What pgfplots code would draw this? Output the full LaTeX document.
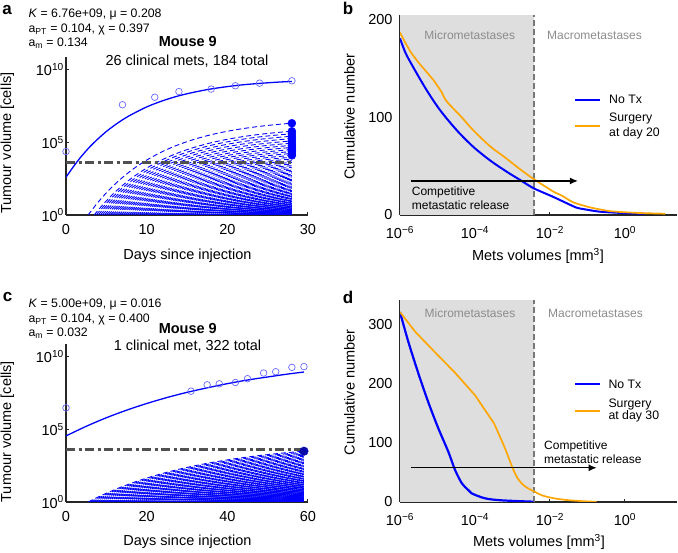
\documentclass[border=0pt]{standalone}
\usepackage{fontspec}
\setmainfont{Liberation Sans}
\usepackage{pgfplots}
\usepackage{pgfplotstable}
\pgfplotsset{compat=1.18}
\usetikzlibrary{arrows.meta}

\definecolor{tx}{RGB}{0,0,255}
\definecolor{surg}{RGB}{255,166,0}
\definecolor{thr}{RGB}{80,80,80}
\definecolor{circ}{RGB}{105,105,255}
\definecolor{shade}{RGB}{222,222,222}
\definecolor{zone}{RGB}{140,140,140}
\definecolor{vline}{RGB}{120,120,120}
\definecolor{dotc}{RGB}{10,10,170}

\newcommand\fmain{\fontsize{14.5}{17}\selectfont}
\newcommand\fsmall{\fontsize{12}{14}\selectfont}
\newcommand\fleg{\fontsize{12.3}{14}\selectfont}
\newcommand\fpar{\fontsize{12.3}{14}\selectfont}
\newcommand\fpanel{\fontsize{17}{19}\selectfont\bfseries}

% Log10 growth-decay term h(t) shared by all metastases of a mouse:
% a metastasis seeded at t_k has log10 V(t) = h(t_k) - h(t).
\pgfplotstableread{
t h
2.50 6.8787
2.75 6.6839
3.00 6.4944
3.25 6.3103
3.50 6.1315
3.75 5.9578
4.00 5.7889
4.25 5.6248
4.50 5.4654
4.75 5.3106
5.00 5.1600
5.25 5.0138
5.50 4.8717
5.75 4.7336
6.00 4.5995
6.25 4.4692
6.50 4.3425
6.75 4.2194
7.00 4.0998
7.25 3.9836
7.50 3.8707
7.75 3.7610
8.00 3.6544
8.25 3.5508
8.50 3.4502
8.75 3.3524
9.00 3.2574
9.25 3.1651
9.50 3.0754
9.75 2.9882
10.00 2.9036
10.25 2.8213
10.50 2.7413
10.75 2.6637
11.00 2.5881
11.25 2.5148
11.50 2.4435
11.75 2.3742
12.00 2.3070
12.25 2.2416
12.50 2.1781
12.75 2.1164
13.00 2.0564
13.25 1.9981
13.50 1.9415
13.75 1.8865
14.00 1.8330
14.25 1.7811
14.50 1.7306
14.75 1.6815
15.00 1.6339
15.25 1.5876
15.50 1.5426
15.75 1.4989
16.00 1.4564
16.25 1.4151
16.50 1.3750
16.75 1.3360
17.00 1.2981
17.25 1.2613
17.50 1.2256
17.75 1.1908
18.00 1.1571
18.25 1.1243
18.50 1.0924
18.75 1.0615
19.00 1.0314
19.25 1.0022
19.50 0.9738
19.75 0.9462
20.00 0.9194
20.25 0.8933
20.50 0.8680
20.75 0.8434
21.00 0.8195
21.25 0.7963
21.50 0.7737
21.75 0.7518
22.00 0.7305
22.25 0.7098
22.50 0.6897
22.75 0.6701
23.00 0.6511
23.25 0.6326
23.50 0.6147
23.75 0.5973
24.00 0.5804
24.25 0.5640
24.50 0.5480
24.75 0.5324
25.00 0.5173
25.25 0.5026
25.50 0.4884
25.75 0.4746
26.00 0.4611
26.25 0.4480
26.50 0.4353
26.75 0.4230
27.00 0.4110
27.25 0.3994
27.50 0.3880
27.75 0.3770
28.00 0.3664
}\metA

\pgfplotstableread{
t h
5.0 4.2057
5.5 4.1327
6.0 4.0611
6.5 3.9906
7.0 3.9214
7.5 3.8534
8.0 3.7865
8.5 3.7208
9.0 3.6563
9.5 3.5929
10.0 3.5305
10.5 3.4693
11.0 3.4091
11.5 3.3500
12.0 3.2918
12.5 3.2347
13.0 3.1786
13.5 3.1235
14.0 3.0693
14.5 3.0161
15.0 2.9637
15.5 2.9123
16.0 2.8618
16.5 2.8122
17.0 2.7633
17.5 2.7154
18.0 2.6683
18.5 2.6220
19.0 2.5765
19.5 2.5318
20.0 2.4879
20.5 2.4447
21.0 2.4023
21.5 2.3606
22.0 2.3197
22.5 2.2795
23.0 2.2399
23.5 2.2010
24.0 2.1629
24.5 2.1254
25.0 2.0885
25.5 2.0523
26.0 2.0166
26.5 1.9816
27.0 1.9473
27.5 1.9135
28.0 1.8803
28.5 1.8477
29.0 1.8156
29.5 1.7841
30.0 1.7532
30.5 1.7228
31.0 1.6929
31.5 1.6635
32.0 1.6347
32.5 1.6063
33.0 1.5784
33.5 1.5510
34.0 1.5241
34.5 1.4977
35.0 1.4717
35.5 1.4462
36.0 1.4211
36.5 1.3964
37.0 1.3722
37.5 1.3484
38.0 1.3250
38.5 1.3020
39.0 1.2794
39.5 1.2572
40.0 1.2354
40.5 1.2140
41.0 1.1929
41.5 1.1722
42.0 1.1519
42.5 1.1319
43.0 1.1123
43.5 1.0930
44.0 1.0740
44.5 1.0554
45.0 1.0371
45.5 1.0191
46.0 1.0014
46.5 0.9840
47.0 0.9670
47.5 0.9502
48.0 0.9337
48.5 0.9175
49.0 0.9016
49.5 0.8860
50.0 0.8706
50.5 0.8555
51.0 0.8406
51.5 0.8260
52.0 0.8117
52.5 0.7976
53.0 0.7838
53.5 0.7702
54.0 0.7569
54.5 0.7438
55.0 0.7308
55.5 0.7181
56.0 0.7057
56.5 0.6935
57.0 0.6814
57.5 0.6696
58.0 0.6580
58.5 0.6466
59.0 0.6353
}\metC

% primary tumour fits (days, cells)
\pgfplotstableread{
t v
0 398
1 2455
2 1.26e4
3 5.25e4
4 1.82e5
5 5.62e5
6 1.48e6
7 3.55e6
8 7.59e6
10 2.75e7
12 7.41e7
14 1.62e8
16 2.95e8
18 4.79e8
20 6.92e8
22 9.33e8
24 1.15e9
26 1.38e9
28 1.58e9
}\primA

\pgfplotstableread{
t v
0 3.55e4
5 1.62e5
10 6.31e5
15 2.09e6
20 6.03e6
25 1.55e7
30 3.55e7
35 7.24e7
40 1.41e8
45 2.51e8
50 4.07e8
55 6.46e8
59 8.91e8
}\primC

\pgfplotsset{
  panel/.style={scale only axis, anchor=south west,
    axis x line*=bottom, axis y line*=left,
    axis line style={line width=1.8pt, black!85},
    tick style={black!85, line width=1pt}, major tick length=3pt, tick align=inside,
    tick label style={font=\fmain},
    xminorticks=false, yminorticks=false, clip mode=individual},
  metline/.style={tx, line width=0.9pt, dash pattern=on 5pt off 3pt},
}

% one metastasis seeded at row #2 of table #1
\newcommand{\metcurve}[2]{%
  \pgfplotstablegetelem{#2}{t}\of{#1}\let\tk=\pgfplotsretval
  \pgfplotstablegetelem{#2}{h}\of{#1}\let\hk=\pgfplotsretval
  \pgfmathsetmacro{\tlo}{\tk-0.05}%
  \edef\doplot{\noexpand\addplot[metline, restrict x to domain=\tlo:100]
    table[x=t, y expr={10^(\hk-\noexpand\thisrow{h})}] {\noexpand#1};}%
  \doplot
}

\begin{document}
\begin{tikzpicture}
\useasboundingbox (0pt,0pt) rectangle (678pt,553pt);

% ---------------- a ----------------
\begin{axis}[panel, at={(66pt,338pt)}, width=242pt, height=157.5pt,
  xmin=0, xmax=30, ymode=log, ymin=1, ymax=7e10,
  xtick={0,10,20,30}, xticklabels={0,10,20,30},
  ytick={1,1e5,1e10},
  yticklabels={10\textsuperscript{0},10\textsuperscript{5},10\textsuperscript{10}},
  xticklabel style={yshift=-6pt}, yticklabel style={inner sep=2pt}]
  \metcurve{\metA}{1}
  \pgfplotsforeachungrouped \r in {4,...,101}{\metcurve{\metA}{\r}}
  \addplot[thr, line width=2.6pt, dash pattern=on 9pt off 3.5pt on 3pt off 3.5pt]
    coordinates {(0,3.98e3) (28,3.98e3)};
  \addplot[tx, line width=1.3pt, smooth] table[x=t, y=v] {\primA};
  \addplot[only marks, mark=o, mark size=3.3pt, mark options={circ, line width=0.7pt}]
    coordinates {(0,2.34e4) (7,3.9e7) (11,1.29e8) (14,3.16e8) (18,4.68e8) (21,7.9e8) (24,1.2e9) (28,1.74e9)};
  \addplot[only marks, mark=*, mark size=4pt, tx]
    coordinates {(28,2.08e6) (28,5.82e5) (28,3.90e5) (28,2.65e5) (28,1.81e5) (28,1.26e5) (28,8.80e4)
      (28,6.22e4) (28,4.44e4) (28,3.20e4) (28,2.33e4) (28,1.71e4) (28,1.27e4)};
\end{axis}

% ---------------- c ----------------
\begin{axis}[panel, at={(66pt,51pt)}, width=242pt, height=157.5pt,
  xmin=0, xmax=60, ymode=log, ymin=1, ymax=7e10,
  xtick={0,20,40,60}, xticklabels={0,20,40,60},
  ytick={1,1e5,1e10},
  yticklabels={10\textsuperscript{0},10\textsuperscript{5},10\textsuperscript{10}},
  xticklabel style={yshift=-6pt}, yticklabel style={inner sep=2pt}]
  \pgfplotsforeachungrouped \r in {1,...,107}{\metcurve{\metC}{\r}}
  \addplot[thr, line width=2.6pt, dash pattern=on 9pt off 3.5pt on 3pt off 3.5pt]
    coordinates {(0,3.98e3) (59,3.98e3)};
  \addplot[tx, line width=1.3pt, smooth] table[x=t, y=v] {\primC};
  \addplot[only marks, mark=o, mark size=3.3pt, mark options={circ, line width=0.7pt}]
    coordinates {(0,3.02e6) (31,4.27e7) (35,1.17e8) (38,1.38e8) (42,1.70e8) (45,3.09e8) (49,7.59e8) (52,9.33e8) (56,1.86e9) (59,2.09e9)};
  \addplot[only marks, mark=*, mark size=4.3pt, dotc] coordinates {(59,3.14e3)};
\end{axis}

% ---------------- b ----------------
\begin{axis}[panel, at={(400pt,338pt)}, width=277pt, height=200pt,
  xmode=log, xmin=1e-6, xmax=24.4, ymin=0, ymax=205,
  xtick={1e-6,1e-4,1e-2,1},
  xticklabels={10\textsuperscript{−6},10\textsuperscript{−4},10\textsuperscript{−2},10\textsuperscript{0}},
  ytick={0,100,200}, yticklabels={0,100,200},
  xticklabel style={yshift=-8pt}, yticklabel style={xshift=-4pt}]
  \addplot[fill=shade, draw=none] coordinates {(1e-6,205) (3.7e-3,205)} \closedcycle;
  \addplot[vline, line width=1.7pt, dash pattern=on 6pt off 3pt] coordinates {(3.7e-3,0) (3.7e-3,205)};
  \addplot[tx, line width=2pt, smooth] coordinates {
    (1e-6,181) (1.41e-6,166) (2.29e-6,151) (5.13e-6,128) (1.17e-5,107.5) (3.24e-5,87)
    (8.91e-5,70) (2.51e-4,56) (6.92e-4,44.5) (1.58e-3,36) (3.63e-3,27.5) (0.0123,18.5)
    (0.0282,12) (0.0513,7.5) (0.0794,6) (0.2,3.5) (0.5,2.5) (1.26,1.8) (3.39,1.3)};
  \addplot[surg, line width=1.7pt] coordinates {
    (1e-6,187) (1.41e-6,176) (2.0e-6,166) (3.16e-6,156) (5.01e-6,147) (7.94e-6,138) (1.29e-5,126)};
  \addplot[surg, line width=1.7pt, smooth] coordinates {
    (1.29e-5,126) (1.58e-5,119) (2.0e-5,114) (3.16e-5,106) (4.47e-5,100) (8.91e-5,87)
    (2.51e-4,70.5) (6.31e-4,59) (1.58e-3,47) (3.80e-3,36.5) (0.0123,24) (0.0204,20)
    (0.0417,13) (0.1,8.5) (0.195,6) (0.398,4) (0.813,3) (2.51,2) (6.31,1.6) (11.7,1.3)};
  \addplot[black, line width=1.4pt, -{Latex[length=8pt,width=7pt]}] coordinates {(1.96e-6,34.9) (0.0558,34.9)};
\end{axis}

% ---------------- d ----------------
\begin{axis}[panel, at={(400pt,51pt)}, width=277pt, height=202pt,
  xmode=log, xmin=1e-6, xmax=24.4, ymin=0, ymax=342.4,
  xtick={1e-6,1e-4,1e-2,1},
  xticklabels={10\textsuperscript{−6},10\textsuperscript{−4},10\textsuperscript{−2},10\textsuperscript{0}},
  ytick={0,100,200,300}, yticklabels={0,100,200,300},
  xticklabel style={yshift=-8pt}, yticklabel style={xshift=-4pt}]
  \addplot[fill=shade, draw=none] coordinates {(1e-6,342.4) (3.7e-3,342.4)} \closedcycle;
  \addplot[vline, line width=1.7pt, dash pattern=on 6pt off 3pt] coordinates {(3.7e-3,0) (3.7e-3,342.4)};
  \addplot[tx, line width=2.2pt, smooth] coordinates {
    (1e-6,322) (1.66e-6,272) (3.09e-6,218) (5.62e-6,170) (1.05e-5,125) (1.95e-5,85)
    (2.95e-5,54) (4.47e-5,31.6) (6.31e-5,21.5) (8.13e-5,14.7) (1.86e-4,6.2) (5.13e-4,2.8) (3.63e-3,0.5)};
  \addplot[surg, line width=1.7pt] coordinates {
    (1e-6,322) (2.51e-6,289) (8.51e-6,254) (2.95e-5,219) (1e-4,181) (3.24e-4,133)};
  \addplot[surg, line width=1.7pt, smooth] coordinates {
    (3.24e-4,133) (6.31e-4,91) (1.0e-3,58) (1.41e-3,39) (2.0e-3,28) (2.82e-3,22) (3.63e-3,18.5)
    (6.31e-3,11) (0.0135,6) (0.0316,3) (0.1,1) (0.174,0.4)};
  \addplot[black, line width=1.4pt, -{Latex[length=8pt,width=7pt]}] coordinates {(1.96e-6,58) (0.176,58)};
\end{axis}

% ---------------- texts ----------------
\begin{scope}[every node/.style={inner sep=0pt}]
\node[font=\fpanel] at (7pt,542.5pt) {a};
\node[font=\fpanel] at (348pt,544.5pt) {b};
\node[font=\fpanel] at (7.5pt,255.5pt) {c};
\node[font=\fpanel] at (348pt,255.5pt) {d};

\node[anchor=base west, font=\fpar] at (28.3pt,535.5pt) {\textit{K} = 6.76e+09, μ = 0.208};
\node[anchor=base west, font=\fpar] at (28.3pt,520.7pt) {a\textsubscript{PT} = 0.104, χ = 0.397};
\node[anchor=base west, font=\fpar] at (28.3pt,506.3pt) {a\textsubscript{m} = 0.134};
\node[anchor=base, font=\fmain\bfseries] at (187.8pt,506pt) {Mouse 9};
\node[anchor=base, font=\fmain] at (187pt,487.3pt) {26 clinical mets, 184 total};
\node[anchor=base, font=\fmain] at (187.5pt,293.7pt) {Days since injection};
\node[rotate=90, font=\fmain] at (7.5pt,410pt) {Tumour volume [cells]};

\node[anchor=base west, font=\fpar] at (28.3pt,245.3pt) {\textit{K} = 5.00e+09, μ = 0.016};
\node[anchor=base west, font=\fpar] at (28.3pt,230.3pt) {a\textsubscript{PT} = 0.104, χ = 0.400};
\node[anchor=base west, font=\fpar] at (28.3pt,216.3pt) {a\textsubscript{m} = 0.032};
\node[anchor=base, font=\fmain\bfseries] at (187.8pt,219.7pt) {Mouse 9};
\node[anchor=base, font=\fmain] at (187.5pt,202pt) {1 clinical met, 322 total};
\node[anchor=base, font=\fmain] at (187.5pt,7pt) {Days since injection};
\node[rotate=90, font=\fmain] at (7.5pt,121.3pt) {Tumour volume [cells]};

\node[rotate=90, font=\fmain] at (349.5pt,436.3pt) {Cumulative number};
\node[anchor=base, font=\fmain] at (538pt,292.3pt) {Mets volumes [mm\textsuperscript{3}]};
\node[anchor=base, font=\fsmall, text=zone] at (469.7pt,513.7pt) {Micrometastases};
\node[anchor=base, font=\fsmall, text=zone] at (594.5pt,513.7pt) {Macrometastases};
\draw[tx, line width=2pt] (575pt,453pt) -- (600pt,453pt);
\node[anchor=base west, font=\fleg] at (609pt,449pt) {No Tx};
\draw[surg, line width=2pt] (575pt,427pt) -- (600pt,427pt);
\node[anchor=base west, font=\fleg] at (609pt,431.3pt) {Surgery};
\node[anchor=base west, font=\fleg] at (609pt,416.3pt) {at day 20};
\node[anchor=base west, font=\fsmall] at (411.7pt,357pt) {Competitive};
\node[anchor=base west, font=\fsmall] at (411.7pt,343.7pt) {metastatic release};

\node[rotate=90, font=\fmain] at (349.5pt,160.5pt) {Cumulative number};
\node[anchor=base, font=\fmain] at (539pt,6.3pt) {Mets volumes [mm\textsuperscript{3}]};
\node[anchor=base, font=\fsmall, text=zone] at (470pt,235.7pt) {Micrometastases};
\node[anchor=base, font=\fsmall, text=zone] at (595.5pt,235.7pt) {Macrometastases};
\draw[tx, line width=2pt] (575pt,169pt) -- (600pt,169pt);
\node[anchor=base west, font=\fleg] at (608.3pt,164pt) {No Tx};
\draw[surg, line width=2pt] (575pt,142.3pt) -- (600pt,142.3pt);
\node[anchor=base west, font=\fleg] at (608.3pt,145.7pt) {Surgery};
\node[anchor=base west, font=\fleg] at (608.3pt,133pt) {at day 30};
\node[anchor=base west, font=\fsmall] at (544pt,103pt) {Competitive};
\node[anchor=base west, font=\fsmall] at (544pt,89.7pt) {metastatic release};
\end{scope}
\end{tikzpicture}
\end{document}
